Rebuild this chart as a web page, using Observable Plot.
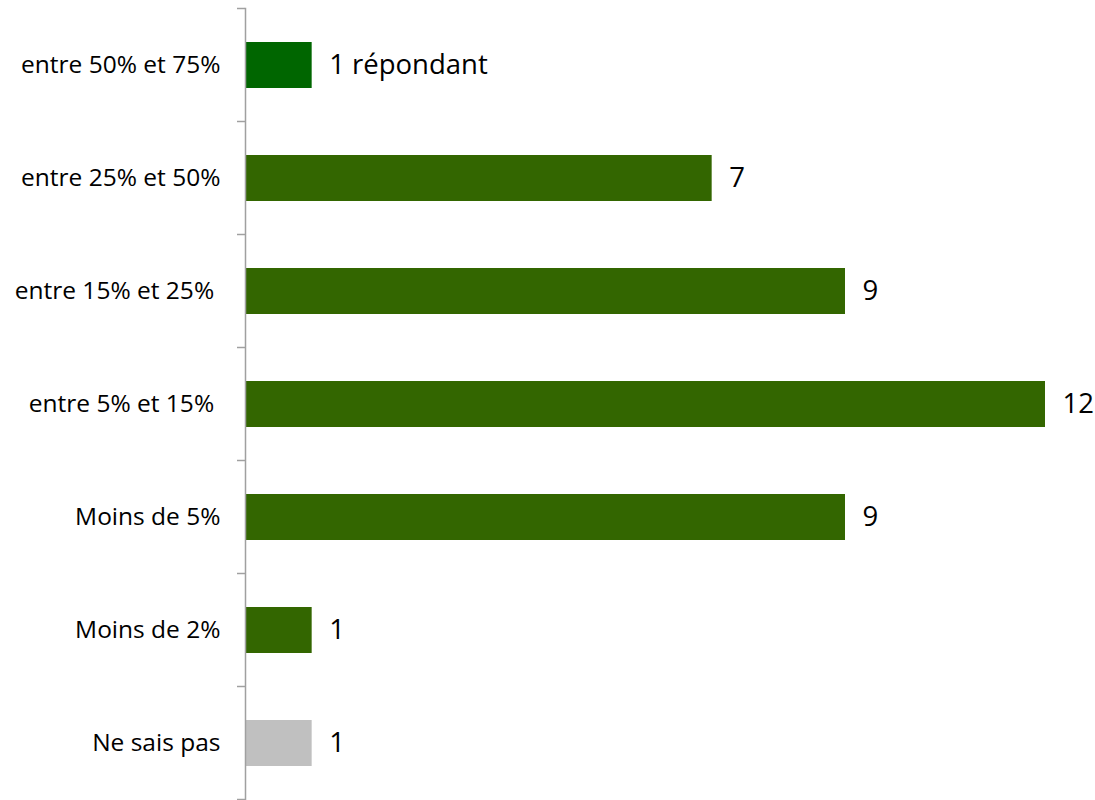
<!DOCTYPE html>
<html>
<head>
<meta charset="utf-8">
<script src="https://cdn.jsdelivr.net/npm/d3@7"></script>
<script src="https://cdn.jsdelivr.net/npm/@observablehq/plot@0.6"></script>
<style>
  body { margin: 0; background: #fff; }
  svg { white-space: pre; }
</style>
</head>
<body>
<div id="chart"></div>
<script>
const categories = ["entre 50% et 75%", "entre 25% et 50%", "entre 15% et 25% ", "entre 5% et 15% ", "Moins de 5%", "Moins de 2%", "Ne sais pas"];
const values = [1, 7, 9, 12, 9, 1, 1];
const valueLabels = ["1 répondant", "7", "9", "12", "9", "1", "1"];
const barColors = ["#006600", "#336600", "#336600", "#336600", "#336600", "#336600", "#C0C0C0"];

const data = categories.map((c, i) => ({category: c, value: values[i], label: valueLabels[i], color: barColors[i]}));

const chart = Plot.plot({
  width: 1095,
  height: 800,
  marginTop: 8,
  marginBottom: 0,
  marginLeft: 245,
  marginRight: 50,
  style: {fontFamily: "Open Sans, sans-serif", background: "#fff"},
  x: {domain: [0, 12], axis: null},
  y: {domain: categories, paddingInner: 0.593, paddingOuter: 0.2965, label: null},
  marks: [
    Plot.axisY({tickSize: 0, tickPadding: 25, fontSize: 19, fill: "#000", textStroke: "none"}),
    Plot.barX(data, {x: "value", y: "category", fill: "color"}),
    Plot.text(data, {x: "value", y: "category", text: "label", textAnchor: "start", dx: 17, fontSize: 27.5, fill: "#000"}),
    Plot.frame({anchor: "left", stroke: "#a0a0a0", strokeWidth: 1.5, strokeOpacity: 1})
  ]
});

// category-axis font size
d3.select(chart).selectAll("g[aria-label='y-axis tick label']").attr("font-size", 24.5);

// boundary ticks on the category axis, derived from the y band scale
const ys = chart.scale("y");
const xs = chart.scale("x");
const x0 = xs.apply(0);
const boundaries = ys.domain.map(d => ys.apply(d) - (ys.step - ys.bandwidth) / 2);
boundaries.push(ys.apply(ys.domain[ys.domain.length - 1]) + ys.bandwidth + (ys.step - ys.bandwidth) / 2);
d3.select(chart).append("g")
  .attr("stroke", "#a0a0a0")
  .attr("stroke-width", 1.5)
  .selectAll("line")
  .data(boundaries)
  .join("line")
  .attr("x1", x0 - 8)
  .attr("x2", x0)
  .attr("y1", d => d)
  .attr("y2", d => d);

document.getElementById("chart").appendChild(chart);
</script>
</body>
</html>
